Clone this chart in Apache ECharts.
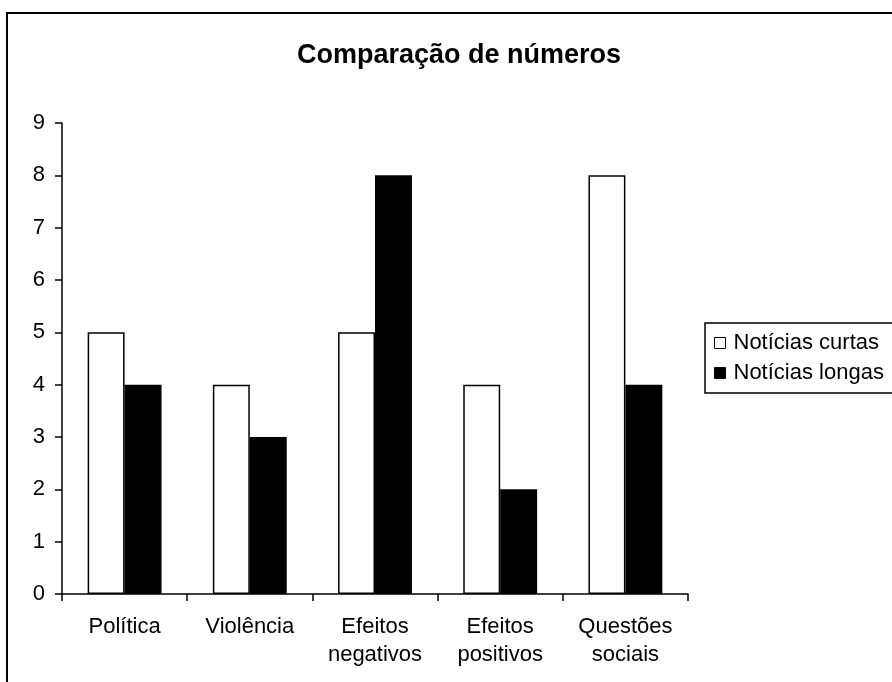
<!DOCTYPE html>
<html>
<head>
<meta charset="utf-8">
<script src="https://cdn.jsdelivr.net/npm/echarts@6/dist/echarts.min.js"></script>
<style>
html,body{margin:0;padding:0;background:#fff;}
#c{width:892px;height:682px;}
</style>
</head>
<body>
<div id="c"></div>
<script>
var titleText = 'Comparação de números';
var categories = ['Política', 'Violência', 'Efeitos negativos', 'Efeitos positivos', 'Questões sociais'];
var seriesNames = ['Notícias curtas', 'Notícias longas'];
var curtas = [5, 4, 5, 4, 8];
var longas = [4, 3, 8, 2, 4];
var yMin = 0, yMax = 9, yStep = 1;

var font = 'Arial, "Liberation Sans", sans-serif';
var chart = echarts.init(document.getElementById('c'), null, {renderer: 'canvas'});
chart.setOption({
  animation: false,
  backgroundColor: '#fff',
  graphic: [{
    type: 'rect', z: -1,
    shape: {x: 7, y: 13, width: 1000, height: 1000},
    style: {fill: 'none', stroke: '#000', lineWidth: 2}
  }],
  title: {
    text: titleText,
    left: 292, top: 37,
    textStyle: {fontFamily: font, fontSize: 27, fontWeight: 'bold', color: '#000'}
  },
  legend: {
    orient: 'vertical',
    left: 705, top: 323,
    padding: [9, 40, 9, 9],
    itemGap: 8,
    itemWidth: 11, itemHeight: 11,
    icon: 'rect',
    borderColor: '#000', borderWidth: 1.5,
    textStyle: {fontFamily: font, fontSize: 22, color: '#000', padding: [0, 0, 0, 3]},
    data: [
      {name: seriesNames[0], itemStyle: {color: '#fff', borderColor: '#000', borderWidth: 1}},
      {name: seriesNames[1], itemStyle: {color: '#000', borderColor: '#000', borderWidth: 1}}
    ]
  },
  grid: {left: 62, right: 204, top: 123, bottom: 88, containLabel: false},
  xAxis: {
    type: 'category',
    data: categories,
    boundaryGap: true,
    axisLine: {lineStyle: {color: '#000', width: 1.5}},
    axisTick: {show: true, alignWithLabel: false, length: 7, lineStyle: {color: '#000', width: 1.5}},
    axisLabel: {
      interval: 0, margin: 19, color: '#000', fontFamily: font, fontSize: 22, lineHeight: 28,
      formatter: function (v) { return v.replace(' ', '\n'); }
    },
    splitLine: {show: false}
  },
  yAxis: {
    type: 'value',
    min: yMin, max: yMax, interval: yStep,
    axisLine: {show: true, lineStyle: {color: '#000', width: 1.5}},
    axisTick: {show: true, length: 7, lineStyle: {color: '#000', width: 1.5}},
    axisLabel: {margin: 17, color: '#000', fontFamily: font, fontSize: 22},
    splitLine: {show: false}
  },
  series: [
    {
      name: seriesNames[0], type: 'bar', data: curtas,
      barGap: '0%', barCategoryGap: '41%',
      itemStyle: {color: '#fff', borderColor: '#000', borderWidth: 1.5}
    },
    {
      name: seriesNames[1], type: 'bar', data: longas,
      barGap: '0%', barCategoryGap: '41%',
      itemStyle: {color: '#000', borderColor: '#000', borderWidth: 1.5}
    }
  ]
});
</script>
</body>
</html>
